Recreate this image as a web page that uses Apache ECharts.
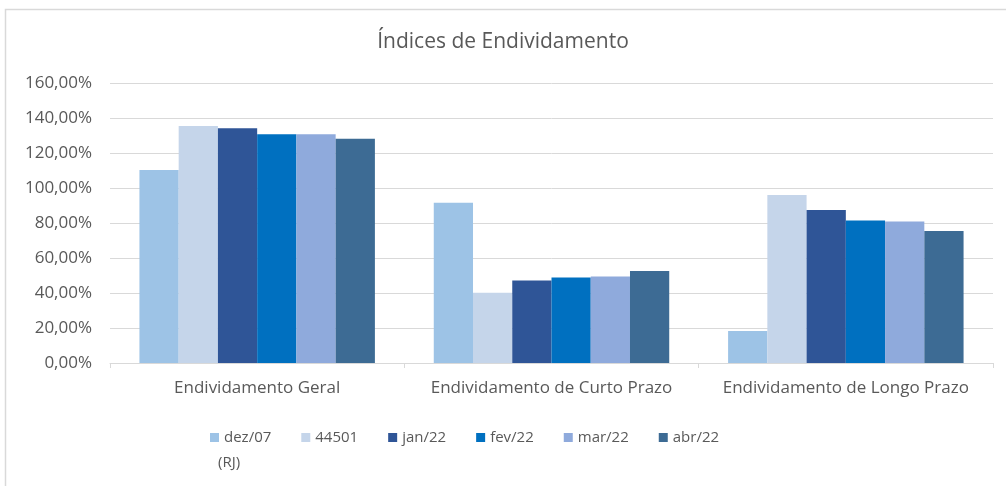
<!DOCTYPE html>
<html>
<head>
<meta charset="utf-8">
<script src="https://cdn.jsdelivr.net/npm/echarts@6/dist/echarts.min.js"></script>
<style>
	html, body { margin: 0; padding: 0; background: #fff; }
	#chart { width: 1006px; height: 486px; }
</style>
</head>
<body>
<div id="chart"></div>
<script>
// categorias e séries (valores em %)
const categories = ['Endividamento Geral', 'Endividamento de Curto Prazo', 'Endividamento de Longo Prazo'];
const seriesNames = ['dez/07 (RJ)', '44501', 'jan/22', 'fev/22', 'mar/22', 'abr/22'];
const dez07 = [110.3, 91.6, 18.3];
const s44501 = [135.4, 40.2, 96.0];
const jan22 = [134.1, 47.2, 87.4];
const fev22 = [130.7, 48.8, 81.5];
const mar22 = [130.7, 49.5, 80.8];
const abr22 = [128.2, 52.6, 75.4];
const colors = ['#9DC3E6', '#C5D5EA', '#2F5597', '#0070C0', '#8FAADC', '#3D6B94'];

const font = '"Open Sans", "Noto Sans", sans-serif';
const myChart = echarts.init(document.getElementById('chart'));
const seriesData = [dez07, s44501, jan22, fev22, mar22, abr22];
const series = [];
seriesData.map((data, i) => {
	series.push({
		name: seriesNames[i],
		type: 'bar',
		barGap: '0%',
		barCategoryGap: '20%',
		itemStyle: { color: colors[i] },
		data: data,
	});
});

const option = {
	color: colors,
	animation: false,
	title: {
		text: 'Índices de Endividamento',
		left: 'center',
		top: 27,
		textStyle: { fontFamily: font, fontSize: 21, fontWeight: 'normal', color: '#595959' },
	},
	graphic: [
		{
			type: 'rect',
			shape: { x: 5.5, y: 9.5, width: 1010, height: 500 },
			style: { fill: 'none', stroke: '#D9D9D9', lineWidth: 1.5 },
			silent: true,
		},
		// segunda linha do item "dez/07 (RJ)" da legenda
		{
			type: 'text',
			left: 218,
			top: 455,
			style: { text: '(RJ)', fontFamily: font, fontSize: 15, fill: '#595959' },
			silent: true,
		},
	],
	legend: {
		left: 205,
		top: 425,
		itemWidth: 9,
		itemHeight: 9,
		itemGap: 30,
		icon: 'rect',
		formatter: (name) => name.split(' ')[0],
		textStyle: { fontFamily: font, fontSize: 15, color: '#595959' },
	},
	grid: { left: 110, right: 13, top: 83, bottom: 123 },
	xAxis: {
		type: 'category',
		data: categories,
		axisLine: { lineStyle: { color: '#D9D9D9', width: 1 } },
		axisTick: { show: true, length: 5, lineStyle: { color: '#D9D9D9' } },
		axisLabel: { fontFamily: font, fontSize: 17, color: '#595959', margin: 17, interval: 0, hideOverlap: false },
	},
	yAxis: {
		type: 'value',
		min: 0,
		max: 160,
		interval: 20,
		axisLine: { show: false },
		axisTick: { show: false },
		splitLine: { lineStyle: { color: '#D9D9D9', width: 1 } },
		axisLabel: {
			fontFamily: font,
			fontSize: 17,
			color: '#595959',
			margin: 18,
			formatter: (v) => v.toFixed(2).replace('.', ',') + '%',
		},
	},
	series: series,
};
myChart.setOption(option);
</script>
</body>
</html>
